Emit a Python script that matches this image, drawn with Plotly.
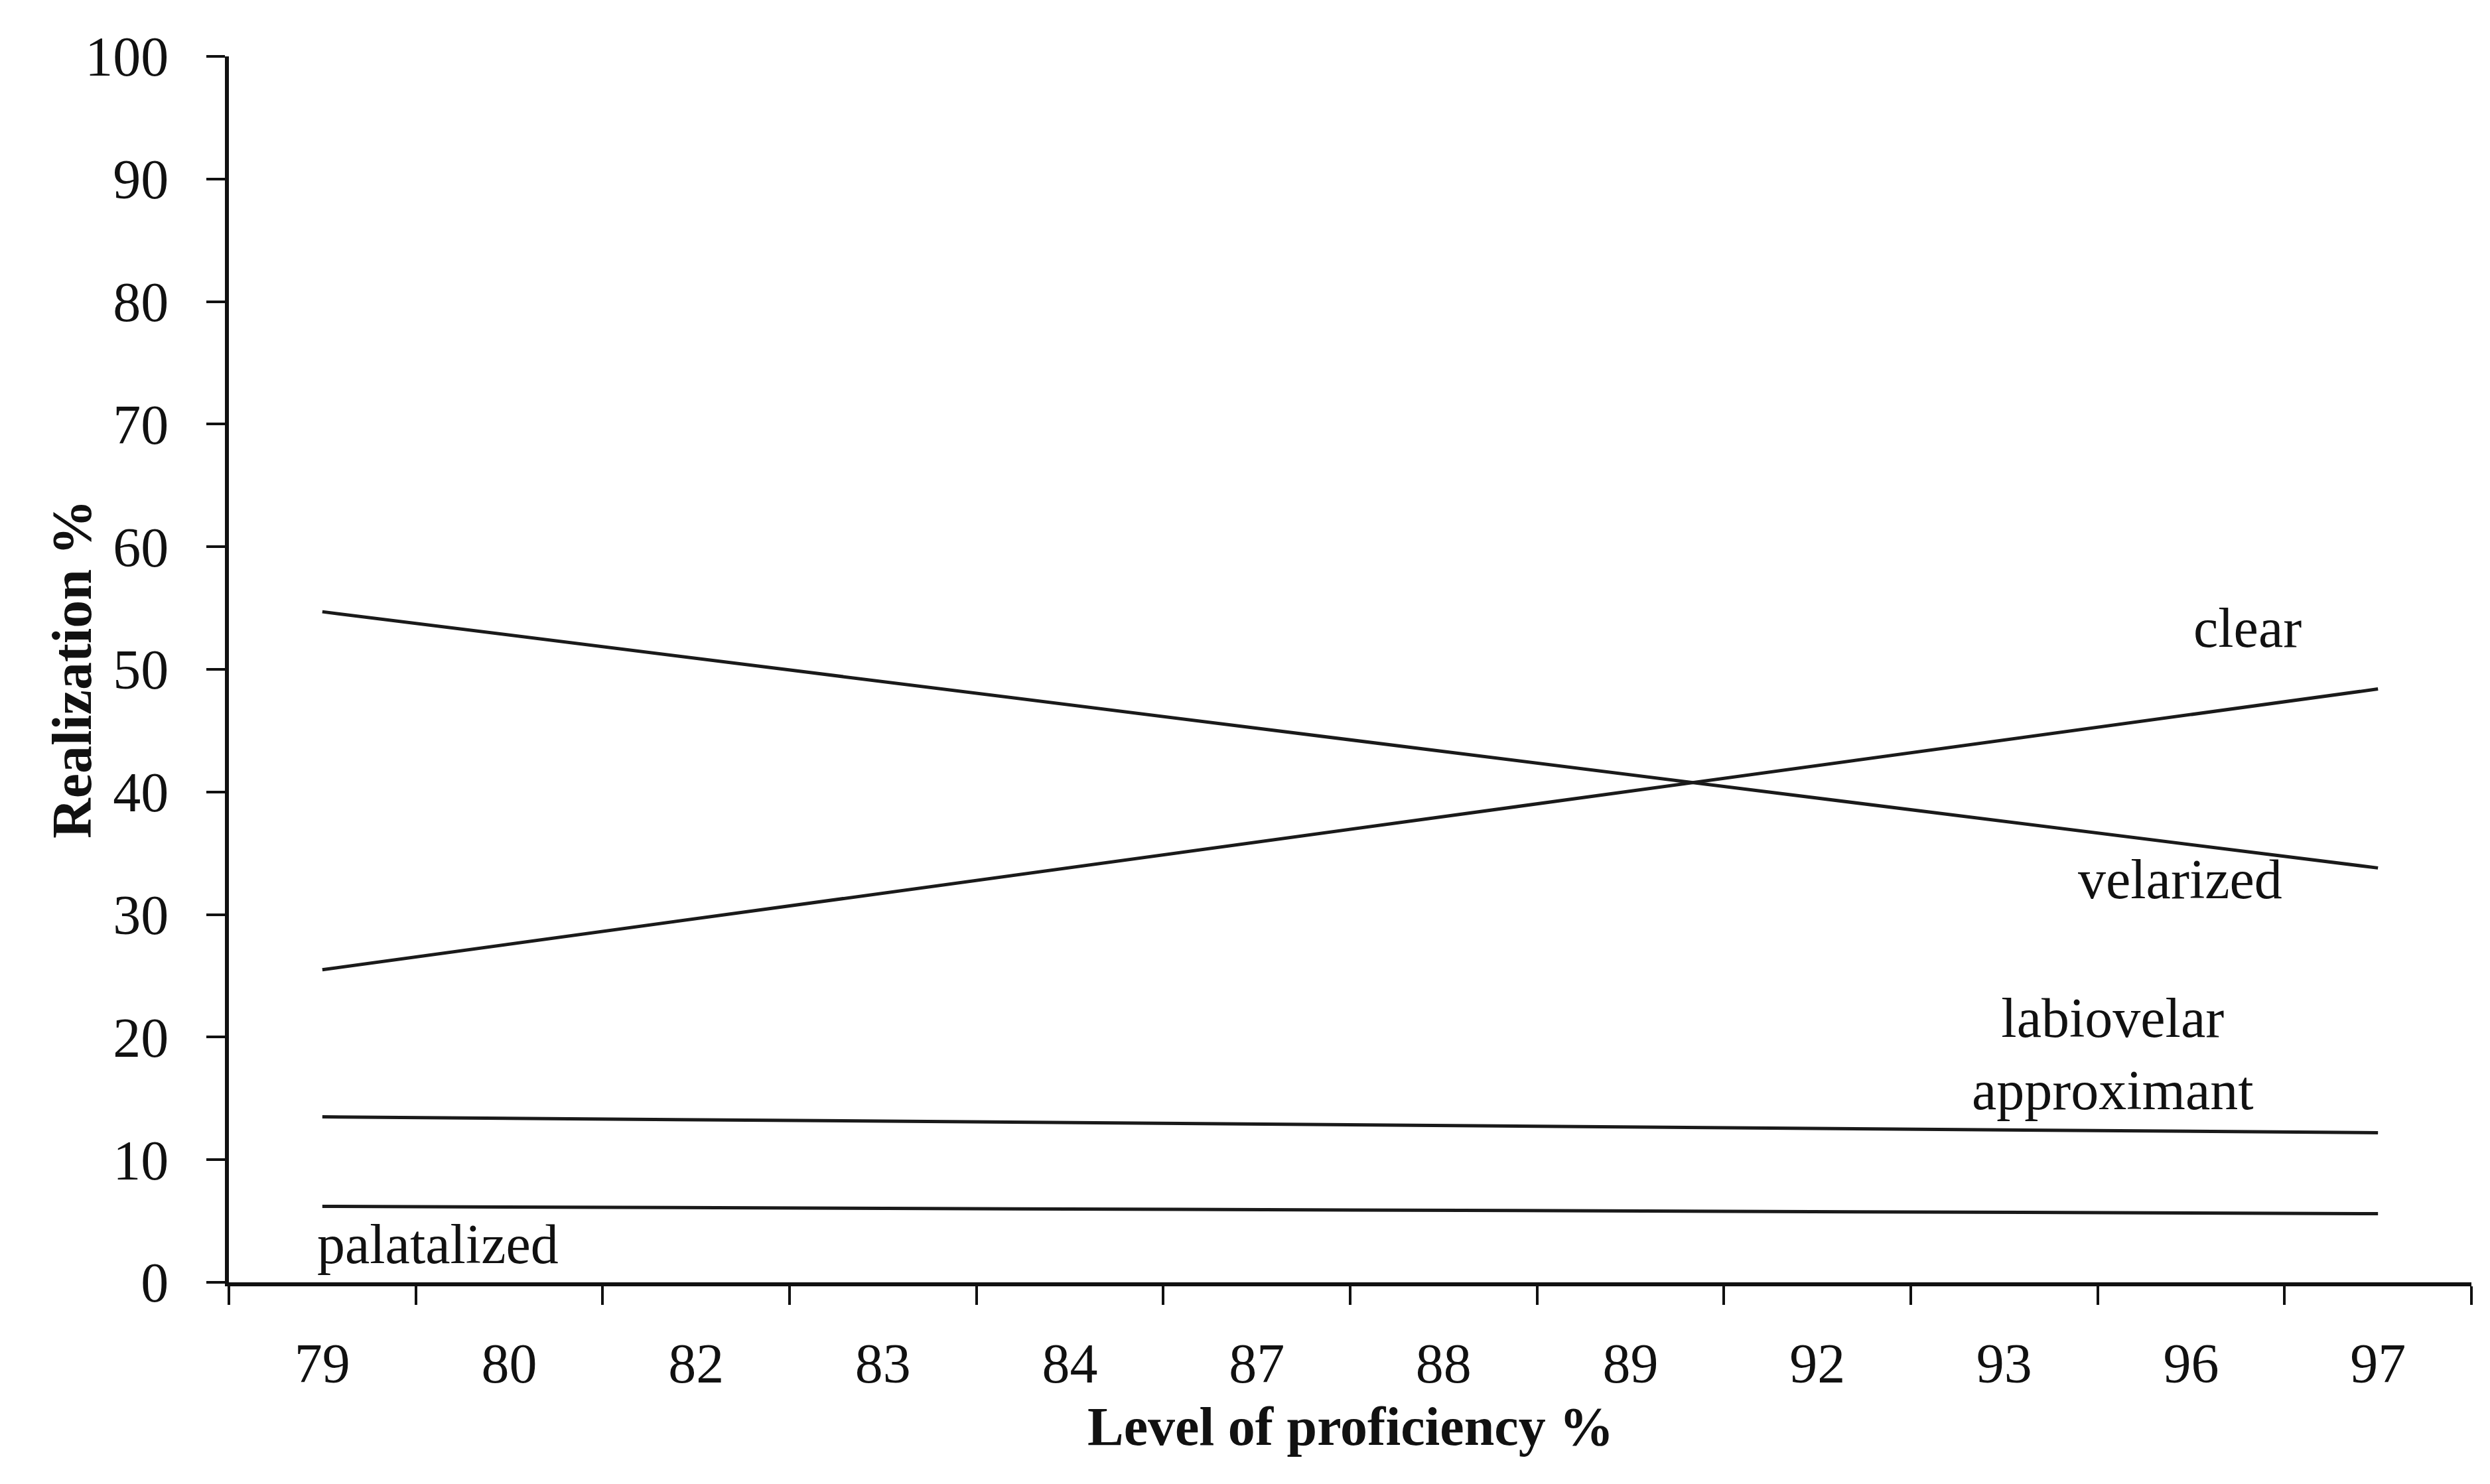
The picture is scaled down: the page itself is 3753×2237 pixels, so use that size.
import plotly.graph_objects as go

categories = ["79", "80", "82", "83", "84", "87", "88", "89", "92", "93", "96", "97"]

# trend lines: value at first and last proficiency level
trend_x = ["79", "97"]
clear = [25.5, 48.4]
velarized = [54.7, 33.8]
labiovelar = [13.5, 12.2]
palatalized = [6.2, 5.6]

y_ticks = [0, 10, 20, 30, 40, 50, 60, 70, 80, 90, 100]

FONT = "Liberation Serif"
W, H = 3753, 2237
L, R, T, B = 337, 36, 77, 312
PW, PH = W - L - R, H - T - B

fig = go.Figure()
for name, vals in [("clear", clear), ("velarized", velarized),
                   ("labiovelar approximant", labiovelar), ("palatalized", palatalized)]:
    fig.add_trace(go.Scatter(x=trend_x, y=vals, mode="lines", name=name,
                             line=dict(color="#1a1a1a", width=5),
                             showlegend=False, hoverinfo="skip"))

labels = [
    ("clear", 10.3, 53.4),
    ("velarized", 9.94, 32.9),
    ("labiovelar<br>approximant", 9.58, 18.6),
    ("palatalized", 0.62, 3.1),
]
for text, x, y in labels:
    fig.add_annotation(x=x, y=y, xref="x", yref="y", text=text, showarrow=False,
                       font=dict(family=FONT, size=84, color="#111111"),
                       xanchor="center", yanchor="middle")

# axis titles
fig.add_annotation(x=0.5, y=-(2142 - (T + PH)) / PH, xref="paper", yref="paper",
                   text="<b>Level of proficiency %</b>", showarrow=False,
                   font=dict(family=FONT, size=82, color="#111111"),
                   xanchor="center", yanchor="middle")
fig.add_annotation(x=-(L - 100) / PW, y=0.5, xref="paper", yref="paper",
                   text="<b>Realization %</b>", showarrow=False, textangle=-90,
                   font=dict(family=FONT, size=84, color="#111111"),
                   xanchor="center", yanchor="middle")

fig.update_layout(
    width=W, height=H, autosize=False,
    margin=dict(l=L, r=R, t=T, b=B),
    paper_bgcolor="white", plot_bgcolor="white",
    font=dict(family=FONT, size=84, color="#111111"),
)
fig.update_xaxes(
    type="category", categoryorder="array", categoryarray=categories,
    range=[-0.5, 11.5], tickson="boundaries",
    ticks="outside", ticklen=28, tickwidth=4, tickcolor="#111111",
    showline=True, linecolor="#111111", linewidth=6,
    showgrid=False, zeroline=False,
    tickfont=dict(family=FONT, size=84, color="#111111"),
    ticklabelstandoff=44,
)
fig.update_yaxes(
    range=[0, 100], tickvals=y_ticks,
    ticks="outside", ticklen=28, tickwidth=4, tickcolor="#111111",
    showline=True, linecolor="#111111", linewidth=6,
    showgrid=False, zeroline=False,
    tickfont=dict(family=FONT, size=84, color="#111111"),
    ticklabelstandoff=40,
)

fig.write_html("out.html")
